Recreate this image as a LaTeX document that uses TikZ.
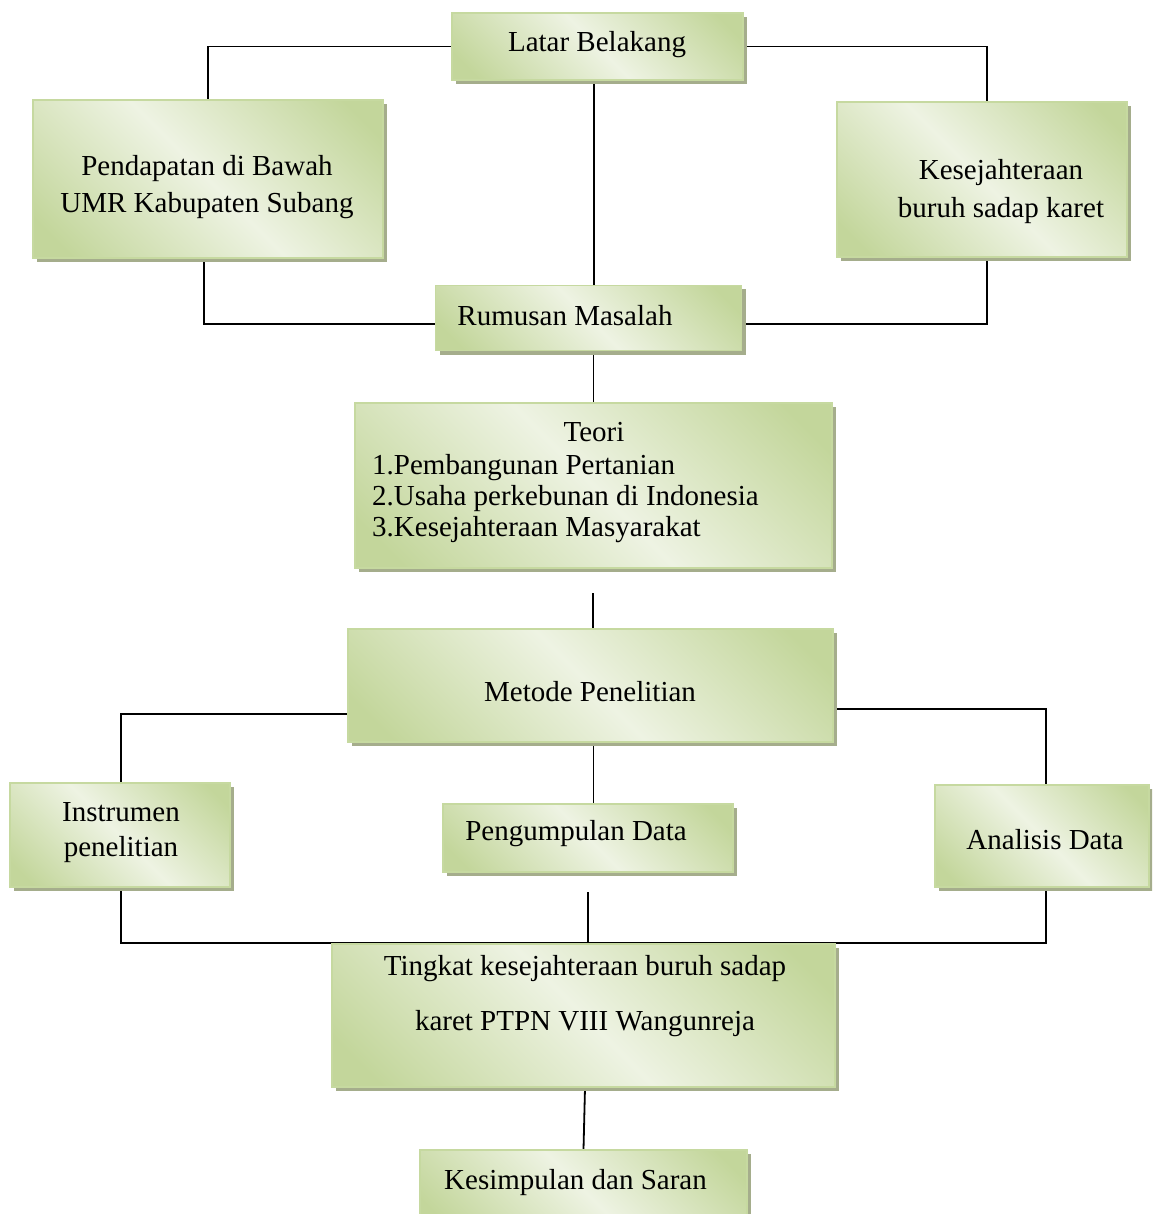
\documentclass[tikz,border=0pt]{standalone}
\usepackage{fontspec}
\setmainfont{Liberation Serif}
\usetikzlibrary{shadows,calc}
\definecolor{gdark}{HTML}{C3D69B}
\definecolor{glight}{HTML}{EEF3E3}
\definecolor{gshadow}{HTML}{A5AD8C}
\definecolor{gborder}{HTML}{C6D9A0}
\pgfdeclarehorizontalshading{wordgreen}{100bp}{color(0bp)=(gdark); color(20bp)=(gdark); color(50bp)=(glight); color(80bp)=(gdark); color(100bp)=(gdark)}
\pgfdeclarelayer{bg}
\pgfsetlayers{bg,main}
\tikzset{
  box/.style={draw=gborder, line width=1.5pt, shading=wordgreen, shading angle=45,
    drop shadow={shadow xshift=4pt, shadow yshift=-4pt, fill=gshadow, opacity=1},
    inner sep=0pt},
  conn/.style={line width=1.8pt, black},
  txt/.style={font=\fontsize{29}{31}\selectfont, inner sep=0pt, align=center},
}
\begin{document}
\begin{tikzpicture}[x=1pt, y=-1pt]
\useasboundingbox (0,0) rectangle (1152,1214);
\clip (0,0) rectangle (1152,1214);
% boxes
\node[box, minimum width=291pt, minimum height=67pt] (latar) at (597.5,46.5) {};
\node[box, minimum width=350pt, minimum height=158pt] (pend) at (208,179) {};
\node[box, minimum width=290pt, minimum height=155pt] (kes) at (982,179.5) {};
\node[box, minimum width=306pt, minimum height=65pt] (rum) at (588.5,318) {};
\node[box, minimum width=477pt, minimum height=165pt] (teori) at (593.5,485.5) {};
\node[box, minimum width=485pt, minimum height=113pt] (metode) at (590.5,685.5) {};
\node[box, minimum width=220pt, minimum height=104pt] (instr) at (120,835) {};
\node[box, minimum width=290pt, minimum height=68pt] (pengum) at (588,838) {};
\node[box, minimum width=214pt, minimum height=102pt] (anal) at (1042,836) {};
\node[box, minimum width=503pt, minimum height=143pt] (ting) at (583.5,1015.5) {};
\node[box, minimum width=327pt, minimum height=80pt] (kesim) at (583.5,1190) {};
% texts
\node[txt] (tlatar) at (597,45) {Latar Belakang};
\node[txt, font=\fontsize{29}{37}\selectfont] (tpend) at (207,187) {Pendapatan di Bawah\\UMR Kabupaten Subang};
\node[txt, font=\fontsize{29}{38}\selectfont] (tkes) at (1001,192) {Kesejahteraan\\buruh sadap karet};
\node[txt] (trum) at (565,316) {Rumusan Masalah};
\node[txt] (tteori) at (594,432.5) {Teori};
\node[txt, anchor=west, align=left] (tlist) at (372,499) {1.Pembangunan Pertanian\\2.Usaha perkebunan di Indonesia\\3.Kesejahteraan Masyarakat};
\node[txt] (tmetode) at (590,692) {Metode Penelitian};
\node[txt, font=\fontsize{29}{35}\selectfont] (tinstr) at (121,833) {Instrumen\\penelitian};
\node[txt] (tpengum) at (576,834) {Pengumpulan Data};
\node[txt] (tanal) at (1045,840) {Analisis Data};
\node[txt, font=\fontsize{29}{55}\selectfont] (tting) at (585,996) {Tingkat kesejahteraan buruh sadap\\karet PTPN VIII Wangunreja};
\node[txt] (tkesim) at (575.5,1183) {Kesimpulan dan Saran};
% free ends
\coordinate (gapT) at (593,593);
\coordinate (gapP) at (588,892);
\begin{pgfonlayer}{bg}
\draw[conn] (latar.west) -- (latar.west -| pend.north) -- (pend.north);
\draw[conn] (latar.east) -- ($(latar.east -| kes.north)+(5,0)$) -- ($(kes.north)+(5,0)$);
\draw[conn] ($(latar.south)+(-3.5,0)$) -- ($(latar.south |- rum.north)+(-3.5,0)$);
\draw[conn] ($(pend.south)+(-4,0)$) -- ($(pend.south |- rum.west)+(-4,6)$) -- ($(rum.west)+(0,6)$);
\draw[conn] ($(kes.south)+(5,0)$) -- ($(kes.south |- rum.east)+(5,6)$) -- ($(rum.east)+(0,6)$);
\draw[conn] (teori.north |- rum.south) -- (teori.north);
\draw[conn] (gapT) -- (gapT |- metode.north);
\draw[conn] ($(metode.west)+(0,28.5)$) -- ($(metode.west -| instr.north)+(1,28.5)$) -- ($(instr.north)+(1,0)$);
\draw[conn] ($(metode.east)+(0,23.5)$) -- ($(metode.east -| anal.north)+(4,23.5)$) -- ($(anal.north)+(4,0)$);
\draw[conn] ($(metode.south)+(3,0)$) -- ($(metode.south |- pengum.north)+(3,0)$);
\draw[conn] ($(instr.south)+(1,0)$) -- ($(instr.south)+(1,55)$) -- ($(anal.south)+(4,55)$) -- ($(anal.south)+(4,0)$);
\draw[conn] (gapP) -- (gapP |- ting.north);
\draw[conn] ($(ting.south)+(1.5,0)$) -- (kesim.north);
\end{pgfonlayer}
\end{tikzpicture}
\end{document}
